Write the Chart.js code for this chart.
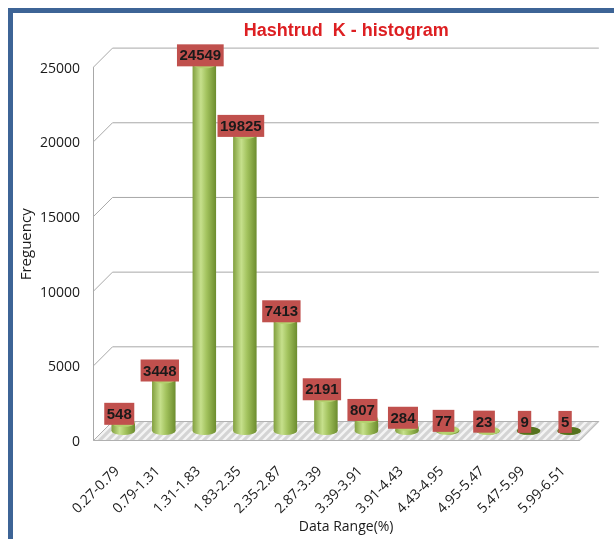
<!DOCTYPE html>
<html>
<head>
<meta charset="utf-8">
<script src="https://cdn.jsdelivr.net/npm/chart.js@4"></script>
<style>
    html, body { margin: 0; padding: 0; background: #fff; }
    #wrap { position: relative; width: 614px; height: 539px; overflow: hidden; }
    #frame {
        position: absolute; left: 8px; top: 8px; width: 700px; height: 700px;
        border-left: 5px solid #3d6496; border-top: 5px solid #3d6496; box-sizing: border-box;
    }
    canvas { position: absolute; left: 0; top: 0; }
</style>
</head>
<body>
<div id="wrap">
    <div id="frame"></div>
    <canvas id="histChart" width="614" height="539"></canvas>
</div>
<script>
// histogram data
const ranges = ['0.27-0.79', '0.79-1.31', '1.31-1.83', '1.83-2.35', '2.35-2.87', '2.87-3.39',
                '3.39-3.91', '3.91-4.43', '4.43-4.95', '4.95-5.47', '5.47-5.99', '5.99-6.51'];
const frequency = [548, 3448, 24549, 19825, 7413, 2191, 807, 284, 77, 23, 9, 5];
const yTicks = [0, 5000, 10000, 15000, 20000, 25000];

const bold = '"Liberation Sans", Arial, sans-serif';
const sans = '"Open Sans", "Noto Sans", sans-serif';
const DX = 9.5, DY = 9.5; // fake 3d depth

function barGradient(ctx, x0, x1) {
    if (!isFinite(x0) || !isFinite(x1)) return '#9bbb59';
    let g = ctx.createLinearGradient(x0, 0, x1, 0);
    g.addColorStop(0, '#819f3e');
    g.addColorStop(0.35, '#c6e08c');
    g.addColorStop(0.6, '#a2c25d');
    g.addColorStop(1, '#6c8c2e');
    return g;
}

function barSpan(chart, i) {
    let xs = chart.scales.x;
    if (!xs || i === undefined) return [NaN, NaN];
    let cx = xs.getPixelForValue(i);
    let half = (xs.width / ranges.length) * 0.58 / 2;
    return [cx - half, cx + half];
}

// back wall, gridlines and floor
const wallPlugin = {
    id: 'wall',
    beforeDatasetsDraw(chart) {
        let ctx = chart.ctx;
        let a = chart.chartArea;
        let ys = chart.scales.y;
        ctx.save();

        // floor
        let pat = document.createElement('canvas');
        pat.width = 8; pat.height = 8;
        let pc = pat.getContext('2d');
        pc.fillStyle = '#d4d4d4';
        pc.fillRect(0, 0, 8, 8);
        pc.strokeStyle = '#f4f4f4';
        pc.lineWidth = 2.5;
        pc.beginPath();
        pc.moveTo(0, 8); pc.lineTo(8, 0);
        pc.moveTo(-4, 4); pc.lineTo(4, -4);
        pc.moveTo(4, 12); pc.lineTo(12, 4);
        pc.stroke();
        ctx.fillStyle = ctx.createPattern(pat, 'repeat');
        ctx.beginPath();
        ctx.moveTo(a.left - DX, a.bottom + DY);
        ctx.lineTo(a.right - DX, a.bottom + DY);
        ctx.lineTo(a.right + DX, a.bottom - DY);
        ctx.lineTo(a.left + DX, a.bottom - DY);
        ctx.closePath();
        ctx.fill();
        ctx.strokeStyle = '#b0b0b0';
        ctx.lineWidth = 1;
        ctx.stroke();

        // gridlines on back wall
        ctx.strokeStyle = '#a8a8a8';
        yTicks.forEach(function(v) {
            if (v === 0) return;
            let py = ys.getPixelForValue(v);
            ctx.beginPath();
            ctx.moveTo(a.left - DX, py + DY);
            ctx.lineTo(a.left + DX, py - DY);
            ctx.lineTo(a.right + DX, py - DY);
            ctx.stroke();
        });
        // left edge
        ctx.beginPath();
        ctx.moveTo(a.left - DX, ys.getPixelForValue(yTicks[yTicks.length - 1]) + DY);
        ctx.lineTo(a.left - DX, a.bottom + DY);
        ctx.stroke();

        // cylinder bottoms
        let base = ys.getPixelForValue(0);
        for (let i = 0; i < frequency.length; i++) {
            let s = barSpan(chart, i);
            ctx.fillStyle = barGradient(ctx, s[0], s[1]);
            ctx.beginPath();
            ctx.ellipse((s[0] + s[1]) / 2, base, (s[1] - s[0]) / 2, 4, 0, 0, Math.PI * 2);
            ctx.fill();
        }
        ctx.restore();
    }
};

// cylinder tops and value boxes
const labelPlugin = {
    id: 'valueBoxes',
    afterDatasetsDraw(chart) {
        let ctx = chart.ctx;
        let meta = chart.getDatasetMeta(0);
        ctx.save();
        meta.data.forEach(function(el, i) {
            let rx = el.width / 2;
            ctx.fillStyle = frequency[i] < 20 ? '#56721f' : '#b3d06e';
            ctx.beginPath();
            ctx.ellipse(el.x, el.y, rx, 4, 0, 0, Math.PI * 2);
            ctx.fill();

            let txt = String(frequency[i]);
            ctx.font = 'bold 15px ' + bold;
            let w = ctx.measureText(txt).width + 5;
            let h = 22;
            let bx = el.x - 4 - w / 2;
            let by = el.y + 2 - h;
            ctx.fillStyle = '#c0504d';
            ctx.fillRect(bx, by, w, h);
            ctx.fillStyle = '#1a1a1a';
            ctx.textAlign = 'center';
            ctx.textBaseline = 'middle';
            ctx.fillText(txt, bx + w / 2, by + h / 2 + 1);
        });
        ctx.restore();
    }
};

let ctx = document.getElementById('histChart').getContext('2d');
let chart = new Chart(ctx, {
    type: 'bar',
    data: {
        labels: ranges,
        datasets: [{
            label: 'Frequency',
            data: frequency,
            backgroundColor: function(c) {
                let s = barSpan(c.chart, c.dataIndex);
                return barGradient(c.chart.ctx, s[0], s[1]);
            },
            borderWidth: 0,
            barPercentage: 0.58,
            categoryPercentage: 1
        }]
    },
    plugins: [wallPlugin, labelPlugin],
    options: {
        responsive: false,
        animation: false,
        devicePixelRatio: 1,
        layout: { padding: { top: 13, left: 14, right: 16, bottom: 0 } },
        plugins: {
            legend: { display: false },
            tooltip: { enabled: false },
            title: {
                display: true,
                fullSize: false,
                text: 'Hashtrud  K - histogram',
                color: '#dd1f22',
                font: { family: bold, size: 18, weight: 'bold' },
                padding: { top: 7, bottom: 16 }
            }
        },
        scales: {
            x: {
                grid: { display: false, drawTicks: false },
                border: { display: false },
                ticks: {
                    color: '#1a1a1a',
                    font: { family: sans, size: 14 },
                    minRotation: 45,
                    maxRotation: 45,
                    autoSkip: false,
                    padding: 32,
                    labelOffset: -6
                },
                title: {
                    display: true,
                    text: 'Data Range(%)',
                    color: '#1a1a1a',
                    font: { family: sans, size: 14 }
                },
                afterFit: function(s) { s.height = 108; }
            },
            y: {
                min: 0,
                max: 25000,
                grid: { display: false, drawTicks: false },
                border: { display: false },
                afterBuildTicks: function(s) { s.ticks = yTicks.map(v => ({ value: v })); },
                ticks: {
                    color: '#1a1a1a',
                    font: { family: sans, size: 14 },
                    padding: 23,
                    labelOffset: 11,
                    callback: function(v) { return String(v); }
                },
                title: {
                    display: true,
                    text: 'Freguency',
                    color: '#1a1a1a',
                    font: { family: sans, size: 15 }
                },
                afterFit: function(s) { s.width = 89; }
            }
        }
    }
});
</script>
</body>
</html>
